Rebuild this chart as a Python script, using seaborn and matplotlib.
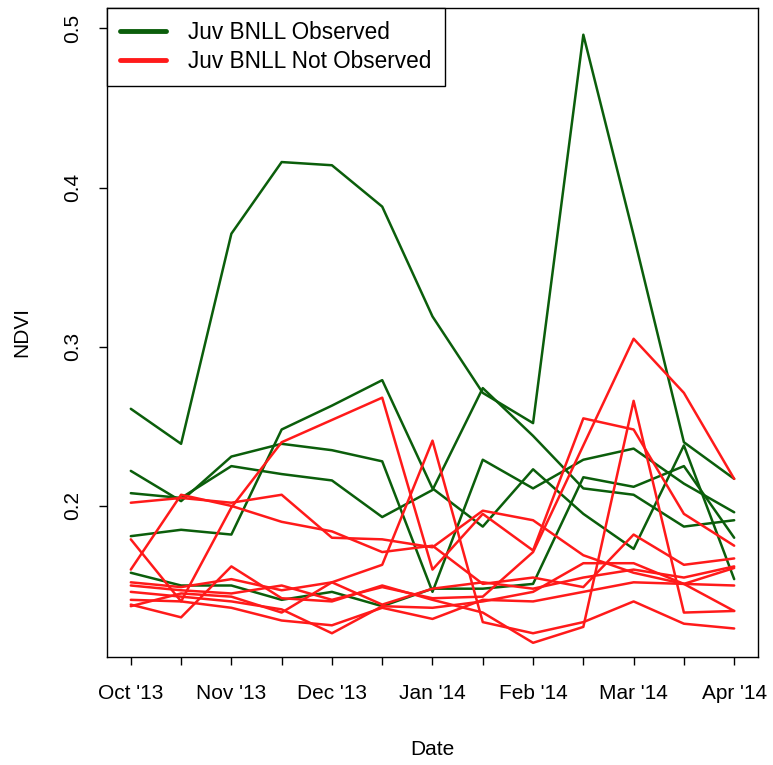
import pandas as pd
import seaborn as sns
import matplotlib.pyplot as plt
from matplotlib.lines import Line2D

dates = ["Oct '13", "", "Nov '13", "", "Dec '13", "", "Jan '14", "",
         "Feb '14", "", "Mar '14", "", "Apr '14"]

# juvenile BNLL observed sites
obs_1 = [0.261, 0.239, 0.371, 0.416, 0.414, 0.388, 0.319, 0.271, 0.252, 0.496, 0.370, 0.240, 0.217]
obs_2 = [0.222, 0.203, 0.231, 0.239, 0.235, 0.228, 0.146, 0.229, 0.211, 0.229, 0.236, 0.214, 0.196]
obs_3 = [0.208, 0.205, 0.225, 0.220, 0.216, 0.193, 0.210, 0.274, 0.244, 0.211, 0.207, 0.187, 0.191]
obs_4 = [0.158, 0.150, 0.150, 0.141, 0.146, 0.137, 0.148, 0.148, 0.151, 0.218, 0.212, 0.225, 0.180]
obs_5 = [0.181, 0.185, 0.182, 0.248, 0.263, 0.279, 0.211, 0.187, 0.223, 0.195, 0.173, 0.238, 0.154]

# juvenile BNLL not observed sites
not_1 = [0.202, 0.205, 0.202, 0.207, 0.180, 0.179, 0.174, 0.197, 0.191, 0.169, 0.158, 0.151, 0.150]
not_2 = [0.179, 0.140, 0.199, 0.240, 0.254, 0.268, 0.160, 0.195, 0.172, 0.255, 0.248, 0.195, 0.175]
not_3 = [0.160, 0.207, 0.200, 0.190, 0.184, 0.171, 0.175, 0.151, 0.155, 0.149, 0.182, 0.163, 0.167]
not_4 = [0.152, 0.149, 0.154, 0.147, 0.152, 0.163, 0.241, 0.127, 0.120, 0.127, 0.140, 0.126, 0.123]
not_5 = [0.150, 0.147, 0.145, 0.150, 0.141, 0.149, 0.142, 0.143, 0.171, 0.238, 0.305, 0.271, 0.217]
not_6 = [0.146, 0.143, 0.140, 0.135, 0.120, 0.137, 0.136, 0.140, 0.146, 0.164, 0.164, 0.151, 0.134]
not_7 = [0.141, 0.140, 0.136, 0.128, 0.125, 0.136, 0.129, 0.141, 0.140, 0.146, 0.152, 0.151, 0.161]
not_8 = [0.138, 0.130, 0.162, 0.142, 0.140, 0.150, 0.141, 0.133, 0.114, 0.124, 0.266, 0.133, 0.134]
not_9 = [0.137, 0.145, 0.143, 0.133, 0.152, 0.138, 0.148, 0.152, 0.148, 0.155, 0.160, 0.155, 0.162]

observed = [obs_1, obs_2, obs_3, obs_4, obs_5]
not_observed = [not_1, not_2, not_3, not_4, not_5, not_6, not_7, not_8, not_9]

rows = []
for i, s in enumerate(observed):
    for t, v in enumerate(s):
        rows.append({"site": "o%d" % i, "t": t, "ndvi": v, "group": "obs"})
for i, s in enumerate(not_observed):
    for t, v in enumerate(s):
        rows.append({"site": "n%d" % i, "t": t, "ndvi": v, "group": "not"})
df = pd.DataFrame(rows)

sns.set_style("white")
plt.rcParams['font.family'] = ['Liberation Sans', 'DejaVu Sans']
plt.rcParams['text.color'] = 'black'
plt.rcParams['axes.labelcolor'] = 'black'
plt.rcParams['xtick.color'] = 'black'
plt.rcParams['ytick.color'] = 'black'

green = "#0b5e0b"
red = "#ff1a1a"

fig = plt.figure(figsize=(7.73, 7.65), dpi=100)
ax = fig.add_axes([0.138, 0.141, 0.843, 0.849])

sns.lineplot(data=df, x="t", y="ndvi", hue="group", units="site", estimator=None,
             palette={"obs": green, "not": red}, hue_order=["obs", "not"],
             lw=1.8, legend=False, ax=ax)

ax.set_xlim(-0.48, 12.48)
ax.set_ylim(0.105, 0.513)
ax.set_xticks(range(13))
ax.set_xticklabels(dates)
ax.set_yticks([0.2, 0.3, 0.4, 0.5])
ax.set_yticklabels(["0.2", "0.3", "0.4", "0.5"], rotation=90, va="center")
ax.tick_params(axis="both", direction="out", length=6, width=1, color="black",
               labelsize=15, left=True, bottom=True)
ax.tick_params(axis="x", pad=13)
ax.tick_params(axis="y", pad=12)
for sp in ax.spines.values():
    sp.set_visible(True)
    sp.set_color("black")
    sp.set_linewidth(1)

ax.set_xlabel("Date", fontsize=15)
ax.set_ylabel("NDVI", fontsize=15)
ax.xaxis.set_label_coords(0.5, -0.128)
ax.yaxis.set_label_coords(-0.115, 0.5)

handles = [Line2D([], [], color=green, lw=3.5), Line2D([], [], color=red, lw=3.5)]
leg = ax.legend(handles, ["Juv BNLL Observed", "Juv BNLL Not Observed"],
                loc="upper left", bbox_to_anchor=(0, 1), borderaxespad=0,
                fontsize=16.3, fancybox=False, framealpha=1, edgecolor="black",
                handlelength=2.0, handletextpad=1.0, labelspacing=0.25,
                borderpad=0.6)
leg.get_frame().set_linewidth(1)

plt.savefig("out.png", dpi=100)
